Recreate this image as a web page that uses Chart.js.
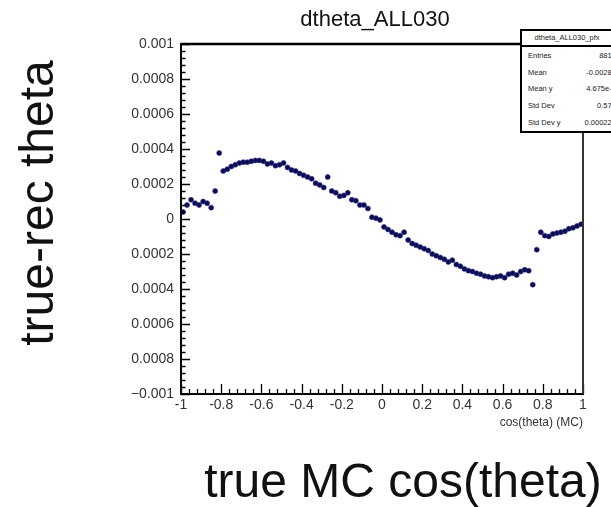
<!DOCTYPE html>
<html>
<head>
<meta charset="utf-8">
<script src="https://cdn.jsdelivr.net/npm/chart.js@4.4.1/dist/chart.umd.min.js"></script>
<style>
    body { margin: 0; background: #fff; }
    #wrap { position: relative; width: 611px; height: 507px; overflow: hidden; background: #fff; font-family: "Liberation Sans", Arial, sans-serif; }
    #chart { position: absolute; left: 0; top: 0; }
    .histTitle { position: absolute; left: 275px; top: 8px; width: 200px; text-align: center; font-size: 22px; line-height: 22px; color: #111; }
    .yLabel { position: absolute; left: -163px; top: 178px; width: 400px; height: 50px; line-height: 50px; text-align: center; font-size: 48px; color: #111; transform: rotate(-90deg); white-space: nowrap; }
    .xLabel { position: absolute; left: 153px; top: 456px; width: 500px; height: 50px; line-height: 50px; text-align: center; font-size: 48px; color: #111; white-space: nowrap; }
    #stats { position: absolute; left: 520px; top: 29px; width: 104px; height: 100px; border: 2px solid #000; background: #fff; font-size: 7.5px; color: #222; }
    #stats .head { height: 14px; line-height: 14px; border-bottom: 2px solid #000; text-align: center; padding-right: 14px; }
    #stats .rows { height: 84px; display: flex; flex-direction: column; justify-content: space-around; padding: 0 6px; }
    #stats .row { display: flex; justify-content: space-between; }
</style>
</head>
<body>
<div id="wrap">
    <canvas id="chart" width="611" height="507"></canvas>
    <div class="histTitle">dtheta_ALL030</div>
    <div class="yLabel">true-rec theta</div>
    <div class="xLabel">true MC cos(theta)</div>
    <div id="stats">
        <div class="head">dtheta_ALL030_pfx</div>
        <div class="rows" id="statRows"></div>
    </div>
</div>
<script>
// bin centers of cos(theta) (MC)
const binCenters = [
    -0.99, -0.97, -0.95, -0.93, -0.91, -0.89, -0.87, -0.85, -0.83, -0.81,
    -0.79, -0.77, -0.75, -0.73, -0.71, -0.69, -0.67, -0.65, -0.63, -0.61,
    -0.59, -0.57, -0.55, -0.53, -0.51, -0.49, -0.47, -0.45, -0.43, -0.41,
    -0.39, -0.37, -0.35, -0.33, -0.31, -0.29, -0.27, -0.25, -0.23, -0.21,
    -0.19, -0.17, -0.15, -0.13, -0.11, -0.09, -0.07, -0.05, -0.03, -0.01,
    0.01, 0.03, 0.05, 0.07, 0.09, 0.11, 0.13, 0.15, 0.17, 0.19,
    0.21, 0.23, 0.25, 0.27, 0.29, 0.31, 0.33, 0.35, 0.37, 0.39,
    0.41, 0.43, 0.45, 0.47, 0.49, 0.51, 0.53, 0.55, 0.57, 0.59,
    0.61, 0.63, 0.65, 0.67, 0.69, 0.71, 0.73, 0.75, 0.77, 0.79,
    0.81, 0.83, 0.85, 0.87, 0.89, 0.91, 0.93, 0.95, 0.97, 0.99
];

// true - rec theta per bin
const dTheta = [
    4.0e-5, 8.0e-5, 1.10e-4, 9.0e-5, 8.0e-5, 1.00e-4, 9.0e-5, 6.5e-5, 1.60e-4, 3.77e-4,
    2.74e-4, 2.85e-4, 3.00e-4, 3.10e-4, 3.20e-4, 3.25e-4, 3.25e-4, 3.30e-4, 3.35e-4, 3.35e-4,
    3.30e-4, 3.15e-4, 3.20e-4, 3.05e-4, 3.10e-4, 3.20e-4, 2.95e-4, 2.80e-4, 2.75e-4, 2.60e-4,
    2.50e-4, 2.40e-4, 2.30e-4, 2.05e-4, 1.95e-4, 1.80e-4, 2.40e-4, 1.60e-4, 1.50e-4, 1.30e-4,
    1.35e-4, 1.50e-4, 1.10e-4, 1.05e-4, 8.0e-5, 8.0e-5, 6.0e-5, 1.0e-5, 5.0e-6, -5.0e-6,
    -4.5e-5, -6.0e-5, -7.5e-5, -9.0e-5, -9.5e-5, -7.5e-5, -1.20e-4, -1.40e-4, -1.50e-4, -1.60e-4,
    -1.70e-4, -1.80e-4, -2.00e-4, -2.10e-4, -2.20e-4, -2.30e-4, -2.45e-4, -2.35e-4, -2.60e-4, -2.70e-4,
    -2.85e-4, -2.95e-4, -3.00e-4, -3.10e-4, -3.15e-4, -3.25e-4, -3.30e-4, -3.35e-4, -3.30e-4, -3.25e-4,
    -3.35e-4, -3.15e-4, -3.10e-4, -3.20e-4, -3.00e-4, -2.90e-4, -2.95e-4, -3.75e-4, -1.75e-4, -7.5e-5,
    -9.5e-5, -1.00e-4, -8.5e-5, -8.0e-5, -7.5e-5, -7.0e-5, -5.5e-5, -5.0e-5, -4.0e-5, -3.0e-5
];

const statNames = ['Entries', 'Mean', 'Mean y', 'Std Dev', 'Std Dev y'];
const statValues = ['88130', '-0.002823', '4.675e-07', '0.5774', '0.0002288'];

const X_MIN = -1, X_MAX = 1, X_STEP = 0.2;
const Y_MIN = -0.001, Y_MAX = 0.001, Y_STEP = 0.0002;
const FONT = '"Liberation Sans", Arial, sans-serif';

// stats box
const statRows = document.getElementById('statRows');
statNames.forEach((name, i) => {
    const row = document.createElement('div');
    row.className = 'row';
    row.innerHTML = '<span>' + name + '</span><span>' + statValues[i] + '</span>';
    statRows.appendChild(row);
});

// ROOT style frame: inward ticks plus top / right border
const rootFrame = {
    id: 'rootFrame',
    afterDatasetsDraw(chart) {
        const { ctx, chartArea: a, scales } = chart;
        const x = scales.x, y = scales.y;
        ctx.save();
        ctx.strokeStyle = '#000';
        ctx.lineWidth = 1.3;
        ctx.beginPath();
        const nY = Math.round((Y_MAX - Y_MIN) / (Y_STEP / 5));
        for (let k = 0; k <= nY; k++) {
            const py = Math.round(y.getPixelForValue(Y_MIN + k * Y_STEP / 5)) + 0.5;
            const len = k % 5 === 0 ? 9 : 4.5;
            ctx.moveTo(a.left, py);
            ctx.lineTo(a.left + len, py);
        }
        const nX = Math.round((X_MAX - X_MIN) / (X_STEP / 5));
        for (let k = 0; k <= nX; k++) {
            const px = Math.round(x.getPixelForValue(X_MIN + k * X_STEP / 5)) + 0.5;
            const len = k % 5 === 0 ? 10 : 5;
            ctx.moveTo(px, a.bottom);
            ctx.lineTo(px, a.bottom - len);
        }
        ctx.stroke();

        // top and right of frame
        ctx.lineWidth = 2.5;
        ctx.beginPath();
        ctx.moveTo(a.left, a.top);
        ctx.lineTo(a.right, a.top);
        ctx.stroke();
        ctx.strokeStyle = '#333';
        ctx.lineWidth = 2;
        ctx.beginPath();
        ctx.moveTo(a.right, a.top);
        ctx.lineTo(a.right, a.bottom);
        ctx.stroke();
        ctx.restore();
    }
};

const points = binCenters.map((c, i) => ({ x: c, y: dTheta[i] }));

new Chart(document.getElementById('chart'), {
    type: 'scatter',
    data: {
        datasets: [{
            data: points,
            pointRadius: 2.5,
            pointBorderWidth: 0.6,
            backgroundColor: '#0c0c48',
            borderColor: '#2a2aa0'
        }]
    },
    options: {
        responsive: false,
        animation: false,
        events: [],
        layout: { padding: { top: 44, right: 28, left: 0, bottom: 0 } },
        plugins: {
            legend: { display: false },
            tooltip: { enabled: false }
        },
        scales: {
            x: {
                type: 'linear',
                min: X_MIN,
                max: X_MAX,
                afterFit: function(scale) { scale.height = 113; },
                grid: { display: false, drawTicks: false },
                border: { display: true, color: '#000', width: 2 },
                ticks: {
                    stepSize: X_STEP,
                    padding: 3,
                    maxRotation: 0,
                    color: '#333',
                    font: { family: FONT, size: 14 },
                    callback: function(v) { return String(Math.round(v * 10) / 10); }
                },
                title: {
                    display: true,
                    text: 'cos(theta) (MC)',
                    align: 'end',
                    color: '#333',
                    font: { family: FONT, size: 12 },
                    padding: { top: 0, bottom: 77 }
                }
            },
            y: {
                type: 'linear',
                min: Y_MIN,
                max: Y_MAX,
                afterFit: function(scale) { scale.width = 181; },
                grid: { display: false, drawTicks: false },
                border: { display: true, color: '#000', width: 2 },
                ticks: {
                    stepSize: Y_STEP,
                    padding: 7,
                    color: '#333',
                    font: { family: FONT, size: 14 },
                    callback: function(v) {
                        const r = Math.round(v * 1e4) / 1e4;
                        if (r === Y_MIN) return '\u22120.001';
                        return String(Math.abs(r));
                    }
                }
            }
        }
    },
    plugins: [rootFrame]
});
</script>
</body>
</html>
